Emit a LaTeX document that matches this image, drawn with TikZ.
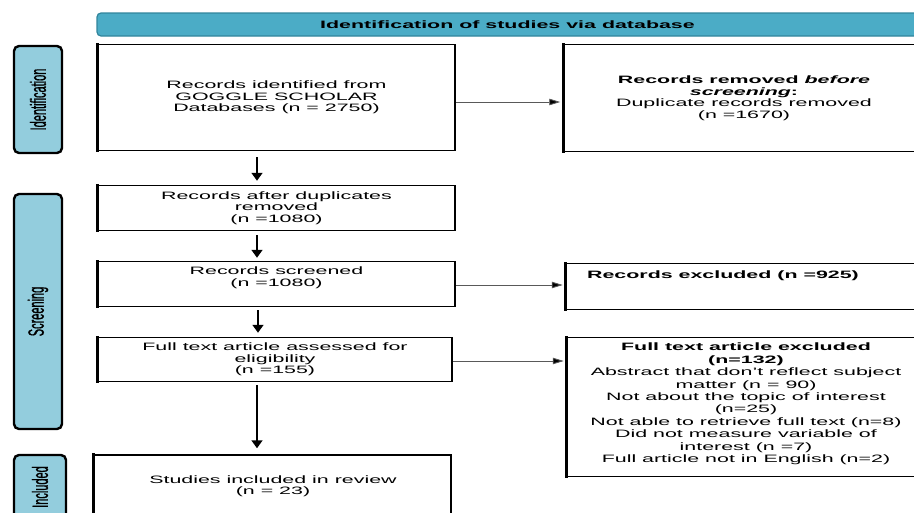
\documentclass[tikz,border=0pt]{standalone}
\usepackage{fontspec}
\setmainfont{Liberation Sans}[FakeStretch=2.0]
\newfontfamily\vfont{Liberation Sans}[FakeBold=1.2]
\usetikzlibrary{arrows.meta}
\definecolor{sidefill}{HTML}{93CDDD}
\definecolor{banfill}{HTML}{4BACC6}
\definecolor{bandraw}{HTML}{31859C}
\newcommand{\vlabel}[1]{\rotatebox{90}{\scalebox{1}[2]{\vfont\fontsize{11}{11}\selectfont #1}}}
\tikzset{
  pbox/.style={draw=black, line width=1.5pt, inner sep=0pt, align=center,
    font=\fontsize{10.7}{11.5}\selectfont},
  ptext/.style={inner sep=0pt, align=center, font=\fontsize{10.7}{11.5}\selectfont},
  side/.style={draw=black, fill=sidefill, line width=2.4pt, rounded corners=5pt, inner sep=0pt},
  banner/.style={draw=bandraw, fill=banfill, line width=1.2pt, rounded corners=4pt, inner sep=0pt,
    font=\fontsize{10.7}{11.5}\selectfont\bfseries},
  varr/.style={line width=1.8pt, -{Triangle[length=8pt,width=11pt]}},
  harr/.style={line width=0.9pt, draw=black!65, -{Triangle[length=11pt,width=6.5pt,fill=black]}},
  thickleft/.style={line width=3.4pt, line cap=rect}
}
\begin{document}
\begin{tikzpicture}[x=1pt,y=-1pt]
\useasboundingbox (0,0) rectangle (914,512);
\clip (0,0) rectangle (914,512);

% banner
\node[banner, minimum width=821, minimum height=23] (ban) at (507.5,24.5)
  {Identification of studies via database};

% side labels
\node[side, minimum width=48, minimum height=107] (sid) at (38,99.5) {\vlabel{Identification}};
\node[side, minimum width=48, minimum height=235] (sscr) at (38,311.5) {\vlabel{Screening}};
\node[side, minimum width=52, minimum height=64] (sinc) at (40,487) {\vlabel{Included}};

% left column
\node[pbox, minimum width=357, minimum height=106] (b1) at (276.5,97.5)
  {Records identified from\\GOGGLE SCHOLAR\\Databases (n = 2750)};
\node[pbox, minimum width=357, minimum height=45] (dup) at (276.5,208)
  {Records after duplicates\\removed\\(n =1080)};
\node[pbox, minimum width=357, minimum height=45] (scr) at (276.5,284) {};
\node[ptext] (scrt) at (276.5,277.5) {Records screened\\(n =1080)};
\node[pbox, minimum width=354, minimum height=44] (ft) at (275,359.5)
  {Full text article assessed for\\eligibility\\(n =155)};
\node[pbox, minimum width=357, minimum height=70] (inc) at (272.5,490) {};
\node[ptext] (inct) at (273,486) {Studies included in review\\(n = 23)};

% right column
\node[pbox, minimum width=360, minimum height=107] (rem) at (744,98)
  {{\bfseries Records removed \textit{before}}\\{\bfseries\itshape screening}{\bfseries :}\\Duplicate records removed\\(n =1670)};
\node[pbox, minimum width=358, minimum height=46] (exc) at (745.5,286.5) {};
\node[ptext, font=\fontsize{10.7}{11.5}\selectfont\bfseries] (exct) at (723,275.5) {Records excluded (n =925)};
\node[pbox, minimum width=357, minimum height=139] (fte) at (746,407) {};
\node[ptext, font=\fontsize{10.7}{12.4}\selectfont] (ftet) at (746,404)
  {{\bfseries Full text article excluded}\\{\bfseries (n=132)}\\Abstract that don’t reflect subject\\matter (n = 90)\\Not about the topic of interest\\(n=25)\\Not able to retrieve full text (n=8)\\Did not measure variable of\\interest (n =7)\\Full article not in English (n=2)};

% thick left edges
\foreach \n in {b1,dup,scr,ft,inc,rem,exc,fte}{
  \draw[thickleft] ([yshift=-0.7pt]\n.north west) -- ([yshift=0.7pt]\n.south west);
}

% arrows
\coordinate (ax) at (257,0);
\coordinate (bx) at (258,0);
\draw[varr, shorten <=6pt, shorten >=4pt] (b1.south -| ax) -- (dup.north -| ax);
\draw[varr, shorten <=4pt, shorten >=3pt] (dup.south -| ax) -- (scr.north -| ax);
\draw[varr, shorten <=3pt, shorten >=4pt] (scr.south -| bx) -- (ft.north -| bx);
\draw[varr, shorten <=3pt, shorten >=6pt] (ft.south -| ax) -- (inc.north -| ax);

\draw[harr, shorten >=3pt] ([yshift=-4.5pt]b1.east) -- ([yshift=-4.5pt]b1.east -| rem.west);
\draw[harr, shorten >=3pt] ([yshift=-1pt]scr.east) -- ([yshift=-1pt]scr.east -| exc.west);
\draw[harr, shorten >=3pt] ([yshift=-1.5pt]ft.east) -- ([yshift=-1.5pt]ft.east -| fte.west);
\end{tikzpicture}
\end{document}
